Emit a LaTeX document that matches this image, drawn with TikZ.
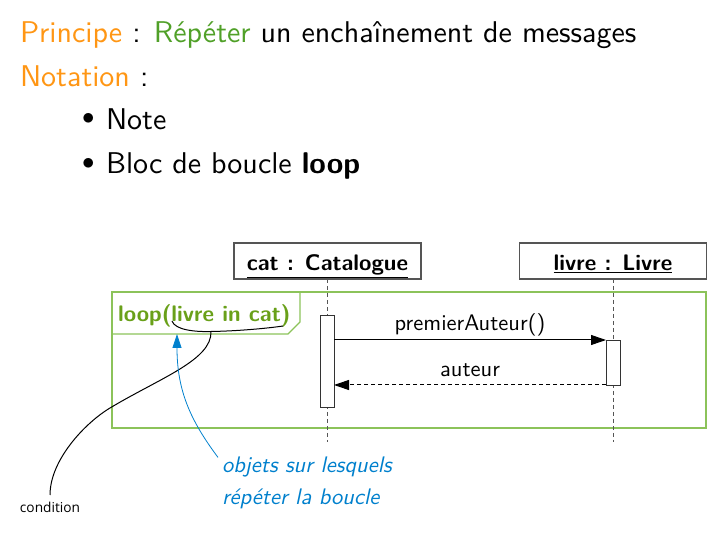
\documentclass[tikz,border=0pt]{standalone}
\usepackage{fontspec}
\setsansfont{lmsans10-regular.otf}[
  BoldFont=lmsansdemicond10-regular.otf,
  ItalicFont=lmsans10-oblique.otf,
  BoldItalicFont=lmsans10-boldoblique.otf]
\newfontfamily\sansbold{lmsans10-bold.otf}
\newfontfamily\notefont{Open Sans}
\usetikzlibrary{arrows.meta}
\definecolor{hdorange}{RGB}{255,150,20}
\definecolor{hdgreen}{RGB}{80,160,40}
\definecolor{looptext}{RGB}{105,160,25}
\definecolor{loopline}{RGB}{140,195,90}
\definecolor{notblue}{RGB}{0,128,205}
\definecolor{lifegray}{RGB}{85,85,85}
\begin{document}
\begin{tikzpicture}[x=1pt,y=-1pt,
  every node/.style={inner sep=0pt,outer sep=0pt,font=\sffamily},
  bigtext/.style={anchor=base west,font=\sffamily\fontsize{30}{35}\selectfont},
  dtext/.style={font=\sffamily\fontsize{22.5}{27}\selectfont},
  objbox/.style={draw=lifegray,line width=1.1pt,fill=white,minimum width=187pt,minimum height=36pt},
  actbox/.style={draw=black!80,line width=0.9pt,fill=white,minimum width=14pt},
  lifeline/.style={draw=lifegray,line width=0.9pt,dash pattern=on 4pt off 3pt},
  msg/.style={draw=black,line width=1pt,-{Triangle[length=15pt,width=10pt]}},
  reply/.style={draw=black,line width=1pt,dash pattern=on 4pt off 3pt,-{Triangle[length=15pt,width=10pt]}},
]
\useasboundingbox (0,0) rectangle (724,537);

% heading lines
\node[bigtext] (l1) at (20,42.5) {\textcolor{hdorange}{Principe} : \textcolor{hdgreen}{Répéter} un enchaînement de messages};
\node[bigtext] (l2) at (20,86.5) {\textcolor{hdorange}{Notation} :};
\node[bigtext] (b1) at (82,129.5) {\raisebox{4.5pt}{$\bullet$}};
\node[bigtext] (i1) at (106,129.5) {Note};
\node[bigtext] (b2) at (82,174) {\raisebox{4.5pt}{$\bullet$}};
\node[bigtext] (i2) at (106,174) {Bloc de boucle {\sansbold loop}};

% loop fragment
\coordinate (fr1) at (112,292);
\coordinate (fr2) at (706,428);
\draw[loopline,line width=1.1pt] (fr1) rectangle (fr2);
\draw[loopline,line width=1.1pt] (112,334) -- (288,334) -- (300,322) -- (300,292);
\node[dtext,anchor=base west,text=looptext] (looplbl) at (118,322) {\sansbold loop(livre in cat)};

% lifelines
\node[objbox] (cat) at (327.5,261) {};
\node[dtext,anchor=base] (catlbl) at (327.5,271) {\sansbold\underline{cat : Catalogue}};
\node[objbox] (livre) at (613,261) {};
\node[dtext,anchor=base] (livrelbl) at (613,271) {\sansbold\underline{livre : Livre}};
\coordinate (catend) at (327,442);
\coordinate (livreend) at (613,442);
\draw[lifeline] (cat.south -| catend) -- (catend);
\draw[lifeline] (livre.south -| livreend) -- (livreend);

% activations
\node[actbox,minimum height=92pt,anchor=north] (actcat) at (327,315) {};
\node[actbox,minimum height=45pt,anchor=north] (actlivre) at (613,340) {};

% messages
\draw[msg] (actcat.east |- actlivre.north) -- (actlivre.north west)
  node[dtext,pos=0.5,above=9pt,anchor=base] (m1) {premierAuteur()};
\draw[reply] (actlivre.south west) -- (actcat.east |- actlivre.south)
  node[dtext,pos=0.5,above=8pt,anchor=base] (m2) {auteur};

% condition note
\coordinate (brL) at (172,321);
\coordinate (brM) at (211,331.5);
\coordinate (brR) at (283,326);
\coordinate (brK) at (110,408);
\node[font=\notefont\fontsize{13.7}{16}\selectfont,anchor=base] (cond) at (50,513) {condition};
\draw[black,line width=1pt] (brL) .. controls (175,330) and (195,332) .. (brM)
  .. controls (240,331) and (270,328) .. (brR);
\draw[black,line width=1pt] (brM) .. controls (212,360) and (160,378) .. (brK)
  .. controls (85,423) and (50,460) .. (cond.north |- 0,495);

% target objects note
\node[dtext,anchor=base west,text=notblue,align=left] (objs) at (222,473)
  {\itshape objets sur lesquels};
\node[dtext,anchor=base west,text=notblue,align=left] (objs2) at (222,505)
  {\itshape répéter la boucle};
\coordinate (tip) at (177,334);
\draw[notblue,line width=0.8pt,-{Triangle[length=14pt,width=9pt]}]
  (objs.north west -| 218,457) .. controls (190,420) and (177,390) .. (tip);
\end{tikzpicture}
\end{document}
